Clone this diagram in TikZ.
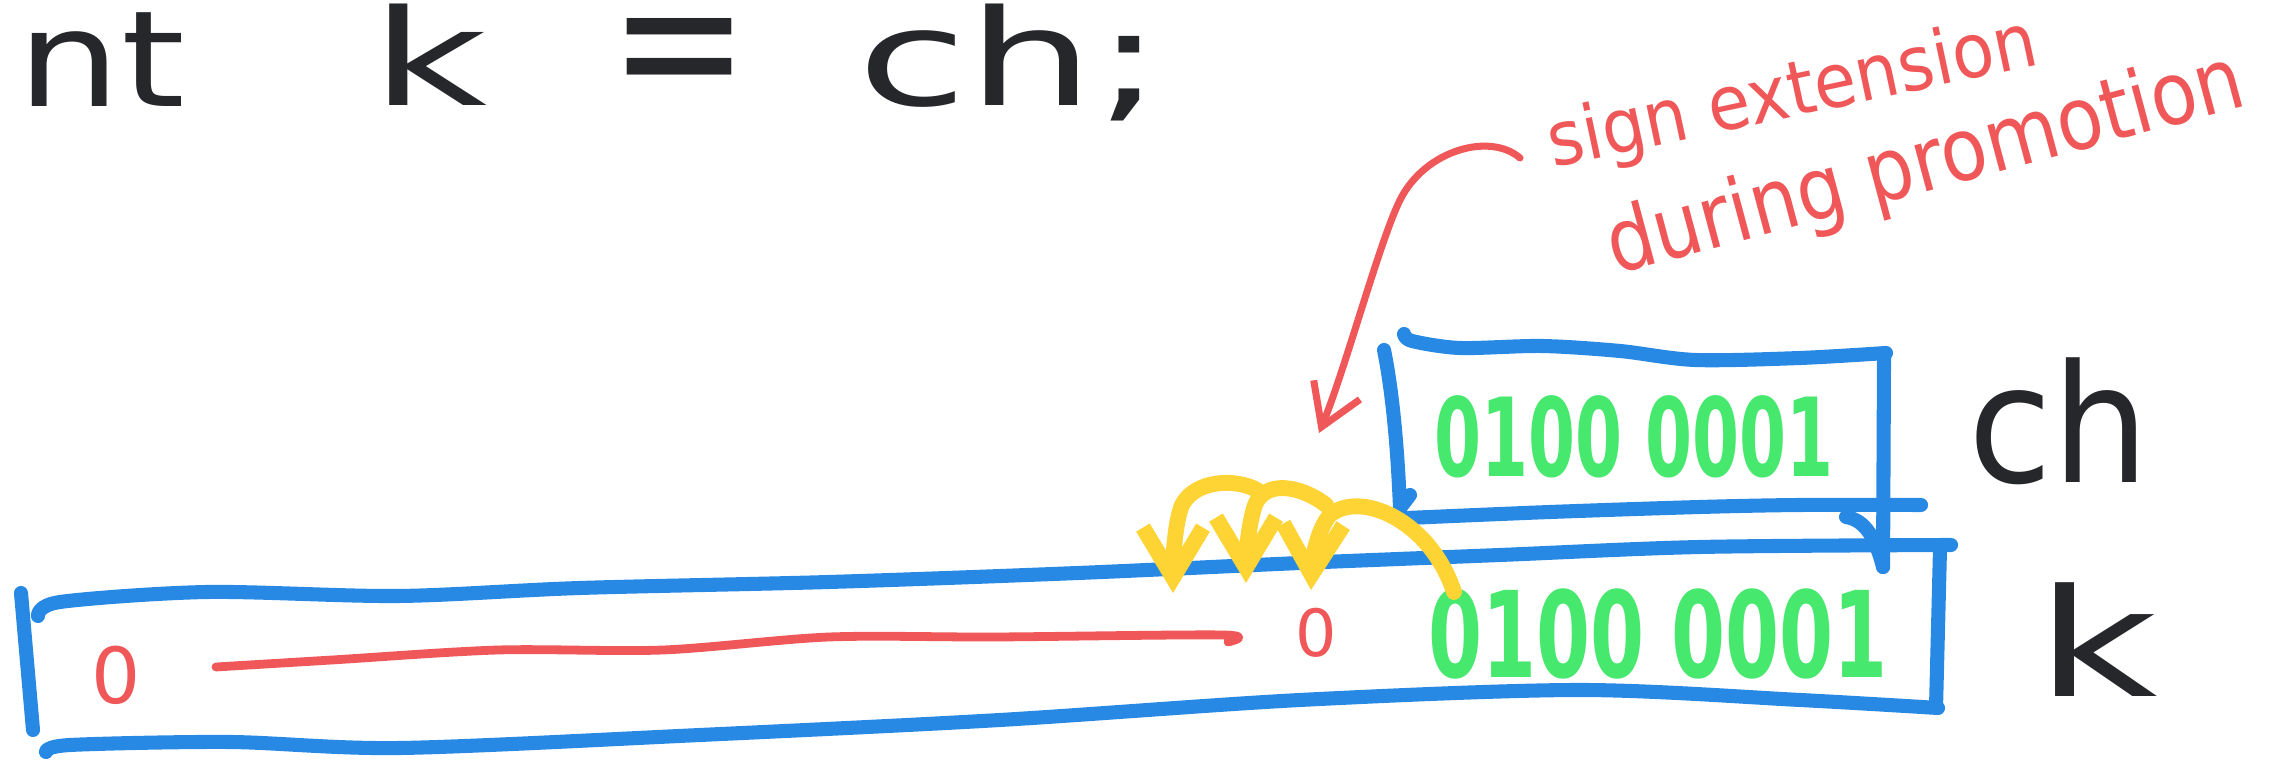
\documentclass[tikz,border=0pt]{standalone}
\usepackage{fontspec}
\setmainfont{DejaVu Sans}
\usetikzlibrary{arrows.meta}
\definecolor{penblue}{RGB}{40,137,228}
\definecolor{pengreen}{RGB}{70,232,110}
\definecolor{penred}{RGB}{240,87,88}
\definecolor{penyellow}{RGB}{253,212,51}
\definecolor{penblack}{RGB}{38,39,43}
\tikzset{
  bluepen/.style={draw=penblue, line width=4pt, line cap=round, line join=round},
  redpen/.style={draw=penred, line width=2pt, line cap=round, line join=round},
  yellowpen/.style={draw=penyellow, line width=4.5pt, line cap=round, line join=round,
    -{Straight Barb[length=5mm,width=6mm]}},
  codetext/.style={text=penblack, inner sep=0pt, font=\fontsize{38}{40}\selectfont},
  bits/.style={text=pengreen, inner sep=0pt},
  note/.style={text=penred, inner sep=0pt},
}
\begin{document}
\begin{tikzpicture}[x=0.01cm,y=-0.01cm]
\fill[white] (0,0) rectangle (2283,762);
\useasboundingbox (0,0) rectangle (2283,762);

% code line
\node[codetext, anchor=base west] (tnt) at (17,107) {\scalebox{1.22}[1]{nt}};
\node[codetext, anchor=base west] (tk) at (371,106) {\scalebox{1.5}[1]{k}};
\node[codetext] (teq) at (679,64) {\scalebox{1.25}[1.5]{=}};
\node[codetext, anchor=base west] (tch) at (857,106) {\scalebox{1.5}[1]{ch;}};

% annotation
\node[note, font=\fontsize{19.5}{21}\selectfont, anchor=base, rotate=12] (sign) at (1797,116) {\scalebox{1}[1.1]{sign extension}};
\node[note, font=\fontsize{21.5}{23}\selectfont, anchor=base, rotate=15] (during) at (1932,190) {\scalebox{1}[1.15]{during promotion}};
\coordinate (arrowfrom) at (1520,158);
\coordinate (arrowto) at (1319,433);
\draw[redpen, -{Straight Barb[length=4mm,width=5mm]}] (arrowfrom)
  .. controls (1490,132) and (1425,150) .. (1400,200)
  .. controls (1380,240) and (1345,370) .. (arrowto);

% ch box
\draw[bluepen] plot[smooth] coordinates {(1404,334) (1412,341) (1460,348) (1542,346) (1620,351) (1695,360) (1800,358) (1886,353)};
\draw[bluepen] (1384,350) .. controls (1394,400) and (1398,460) .. (1400,508) -- (1410,495);
\draw[bluepen] (1884,356) -- (1883,567);
\draw[bluepen] plot[smooth] coordinates {(1407,518) (1550,512) (1700,507) (1800,505) (1921,505)};
\draw[bluepen] (1846,517) .. controls (1866,520) and (1876,540) .. (1883,567);

% k box
\draw[bluepen] (21,593) -- (33,730);
\draw[bluepen] plot[smooth] coordinates {(38,616) (60,602) (207,592) (398,596) (580,588) (829,582) (1078,573) (1300,563) (1500,555) (1700,547) (1951,545)};
\draw[bluepen] (1940,548) -- (1936,707);
\draw[bluepen] plot[smooth] coordinates {(46,752) (70,745) (230,742) (400,748) (700,735) (1000,720) (1300,700) (1580,690) (1800,700) (1938,708)};

% bits
\node[bits, font=\fontsize{31}{33}\selectfont\bfseries] (chbits) at (1634,437) {\scalebox{0.62}[1]{0100 0001}};
\node[bits, font=\fontsize{34}{36}\selectfont\bfseries] (kbits) at (1658,634) {\scalebox{0.65}[1]{0100 0001}};

% labels
\node[codetext, font=\fontsize{46.7}{48}\selectfont, anchor=base west] (chlabel) at (1968,483) {\scalebox{0.93}[1]{ch}};
\node[codetext, font=\fontsize{42.6}{44}\selectfont, anchor=base west] (klabel) at (2036,697) {\scalebox{1.4}[1]{k}};

% sign bits
\node[note, font=\fontsize{22}{24}\selectfont] (zeroleft) at (116,675) {0};
\draw[redpen, line width=2.5pt] plot[smooth] coordinates {(216,667) (332,660) (498,650) (663,650) (829,637) (995,637) (1223,635) (1228,642)};
\node[note, font=\fontsize{18.5}{20}\selectfont] (zeromid) at (1316,633) {0};

% yellow copy arrows
\coordinate (ystart) at (1454,592);
\coordinate (yb) at (1326,505);
\coordinate (yc) at (1257,490);
\coordinate (tipa) at (1311,590);
\coordinate (tipb) at (1246,583);
\coordinate (tipc) at (1173,593);
\draw[yellowpen] (ystart) .. controls (1430,520) and (1360,490) .. (1330,515)
  .. controls (1318,528) and (1312,560) .. (tipa);
\draw[yellowpen] (yb) .. controls (1300,485) and (1265,480) .. (1255,505)
  .. controls (1248,525) and (1246,560) .. (tipb);
\draw[yellowpen] (yc) .. controls (1235,478) and (1195,480) .. (1182,505)
  .. controls (1174,525) and (1173,565) .. (tipc);
\end{tikzpicture}
\end{document}
